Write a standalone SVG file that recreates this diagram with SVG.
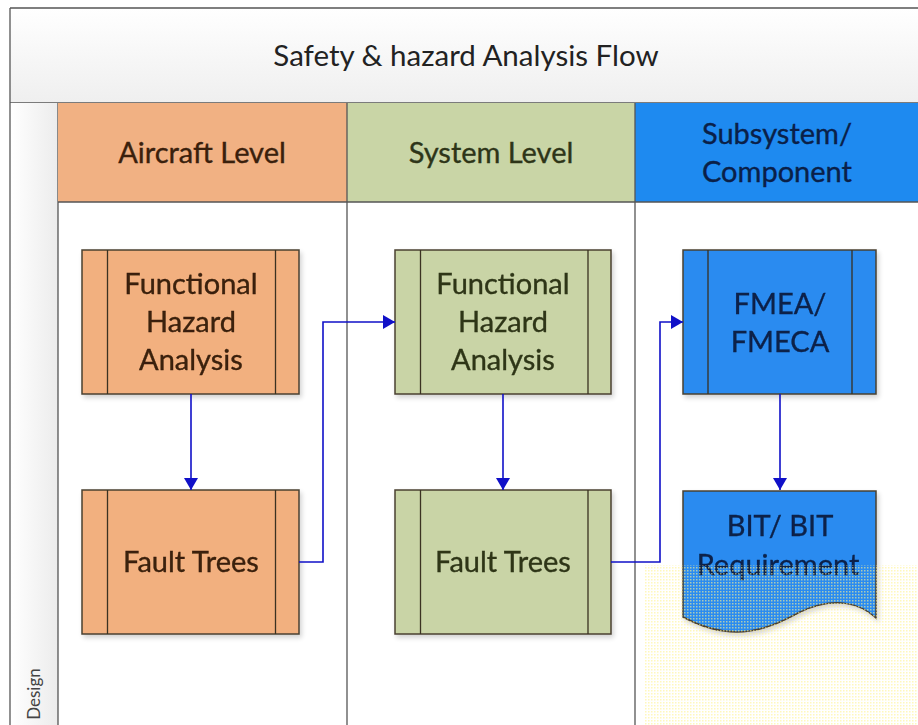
<svg xmlns="http://www.w3.org/2000/svg" width="918" height="725" viewBox="0 0 918 725">
  <defs>
    <linearGradient id="titleGrad" x1="0" y1="0" x2="0" y2="1">
      <stop offset="0" stop-color="#ffffff"/>
      <stop offset="1" stop-color="#efefef"/>
    </linearGradient>
    <linearGradient id="laneGrad" x1="0" y1="0" x2="1" y2="0">
      <stop offset="0" stop-color="#ffffff"/>
      <stop offset="1" stop-color="#ececec"/>
    </linearGradient>
    <pattern id="dots" width="3" height="3" patternUnits="userSpaceOnUse">
      <rect x="0" y="0" width="1.5" height="1.5" fill="#fff490" opacity="0.6"/>
    </pattern>
    <filter id="shadow" x="-10%" y="-10%" width="130%" height="130%">
      <feGaussianBlur in="SourceAlpha" stdDeviation="2.5"/>
      <feOffset dx="2" dy="3"/>
      <feComponentTransfer><feFuncA type="linear" slope="0.18"/></feComponentTransfer>
      <feMerge><feMergeNode/><feMergeNode in="SourceGraphic"/></feMerge>
    </filter>
    <marker id="arrow" viewBox="0 0 12 14" refX="12" refY="7" markerWidth="12" markerHeight="14" markerUnits="userSpaceOnUse" orient="auto">
      <path d="M0,0 L12,7 L0,14 z" fill="#1010c8"/>
    </marker>
  </defs>
  <style>
    text { font-family: Lato, "Open Sans", "Liberation Sans", sans-serif; text-anchor: middle; }
    .title { font-size: 29.5px; fill: #222222; }
    .head { font-size: 29px; stroke-width: 0.35; }
    .node-text { font-size: 29px; stroke-width: 0.35; }
    .box { stroke: #4a4030; stroke-width: 1.5; }
    .bar { stroke: #3a3020; stroke-width: 1.3; fill: none; }
    .orange { fill: #f2b07f; }
    .green { fill: #c9d4a6; }
    .blue { fill: #2a8bf0; }
    .t-orange { fill: #3a200c; stroke: #3a200c; }
    .t-green { fill: #2e3518; stroke: #2e3518; }
    .t-blue { fill: #0a2048; stroke: #0a2048; }
    .conn { fill: none; stroke: #1010c8; stroke-width: 1.6; marker-end: url(#arrow); }
  </style>

  <rect x="0" y="0" width="918" height="725" fill="#ffffff"/>

  <!-- pool title band -->
  <g id="pool-title">
    <rect x="10" y="8" width="920" height="95" fill="url(#titleGrad)"/>
    <line x1="10" y1="8" x2="918" y2="8" stroke="#555" stroke-width="1.3"/>
    <line x1="10" y1="103" x2="918" y2="103" stroke="#555" stroke-width="1.3"/>
    <text class="title" x="466" y="66">Safety &amp; hazard Analysis Flow</text>
  </g>

  <!-- swimlane label strip -->
  <g id="lane-design">
    <rect x="10" y="103" width="48" height="630" fill="url(#laneGrad)"/>
    <line x1="10" y1="8" x2="10" y2="725" stroke="#555" stroke-width="1.3"/>
    <line x1="58" y1="103" x2="58" y2="725" stroke="#555" stroke-width="1.3"/>
    <text x="0" y="0" transform="translate(40,694) rotate(-90)" style="font-size:17px; fill:#444;">Design</text>
  </g>

  <!-- phase columns -->
  <g id="col-aircraft">
    <rect x="58" y="103" width="289" height="99" fill="#f1b183"/>
    <text class="head t-orange" x="202" y="163">Aircraft Level</text>
  </g>
  <g id="col-system">
    <rect x="347" y="103" width="288" height="99" fill="#c9d5a6"/>
    <text class="head t-green" x="491" y="163">System Level</text>
  </g>
  <g id="col-subsystem">
    <rect x="635" y="103" width="283" height="99" fill="#1e8af0"/>
    <text class="head t-blue" x="777" y="144">Subsystem/</text>
    <text class="head t-blue" x="777" y="182">Component</text>
  </g>
  <g id="col-lines">
    <line x1="58" y1="202" x2="918" y2="202" stroke="#555" stroke-width="1.3"/>
    <line x1="347" y1="103" x2="347" y2="725" stroke="#555" stroke-width="1.3"/>
    <line x1="635" y1="103" x2="635" y2="725" stroke="#555" stroke-width="1.3"/>
  </g>

  <!-- process nodes -->
  <g id="aircraft-fha" filter="url(#shadow)">
    <rect class="box orange" x="82" y="250" width="217" height="144"/>
    <line class="bar" x1="107.5" y1="250" x2="107.5" y2="394"/>
    <line class="bar" x1="275.5" y1="250" x2="275.5" y2="394"/>
    <text class="node-text t-orange" x="191" y="294">Functional</text>
    <text class="node-text t-orange" x="191" y="332">Hazard</text>
    <text class="node-text t-orange" x="191" y="370">Analysis</text>
  </g>
  <g id="aircraft-ft" filter="url(#shadow)">
    <rect class="box orange" x="82" y="490" width="217" height="144"/>
    <line class="bar" x1="107.5" y1="490" x2="107.5" y2="634"/>
    <line class="bar" x1="275.5" y1="490" x2="275.5" y2="634"/>
    <text class="node-text t-orange" x="191" y="572">Fault Trees</text>
  </g>
  <g id="system-fha" filter="url(#shadow)">
    <rect class="box green" x="395" y="250" width="216" height="144"/>
    <line class="bar" x1="420.5" y1="250" x2="420.5" y2="394"/>
    <line class="bar" x1="588" y1="250" x2="588" y2="394"/>
    <text class="node-text t-green" x="503" y="294">Functional</text>
    <text class="node-text t-green" x="503" y="332">Hazard</text>
    <text class="node-text t-green" x="503" y="370">Analysis</text>
  </g>
  <g id="system-ft" filter="url(#shadow)">
    <rect class="box green" x="395" y="490" width="216" height="144"/>
    <line class="bar" x1="420.5" y1="490" x2="420.5" y2="634"/>
    <line class="bar" x1="588" y1="490" x2="588" y2="634"/>
    <text class="node-text t-green" x="503" y="572">Fault Trees</text>
  </g>
  <g id="fmea" filter="url(#shadow)">
    <rect class="box blue" x="683" y="250" width="193" height="144" stroke="#1a2a40"/>
    <line class="bar" x1="708" y1="250" x2="708" y2="394" stroke="#0c1c40"/>
    <line class="bar" x1="852" y1="250" x2="852" y2="394" stroke="#0c1c40"/>
    <text class="node-text t-blue" x="780" y="314">FMEA/</text>
    <text class="node-text t-blue" x="780" y="352">FMECA</text>
  </g>
  <g id="bit-requirement" filter="url(#shadow)">
    <path class="box blue" stroke="#1a2a40" d="M683,491 H876 V618 C860,603 835,596 800,612 C770,628 735,645 683,617 Z"/>
    <text class="node-text t-blue" x="780" y="536">BIT/ BIT</text>
    <text class="node-text t-blue" x="778" y="575">Requirement</text>
  </g>

  <!-- connectors -->
  <g id="connectors">
    <path class="conn" d="M191,394 V490"/>
    <path class="conn" d="M299,562 H323 V322 H395"/>
    <path class="conn" d="M503,394 V490"/>
    <path class="conn" d="M611,562 H660 V322 H683"/>
    <path class="conn" d="M780,394 V490"/>
  </g>

  <!-- dotted highlight area -->
  <rect x="645" y="565" width="273" height="160" fill="url(#dots)"/>
</svg>
